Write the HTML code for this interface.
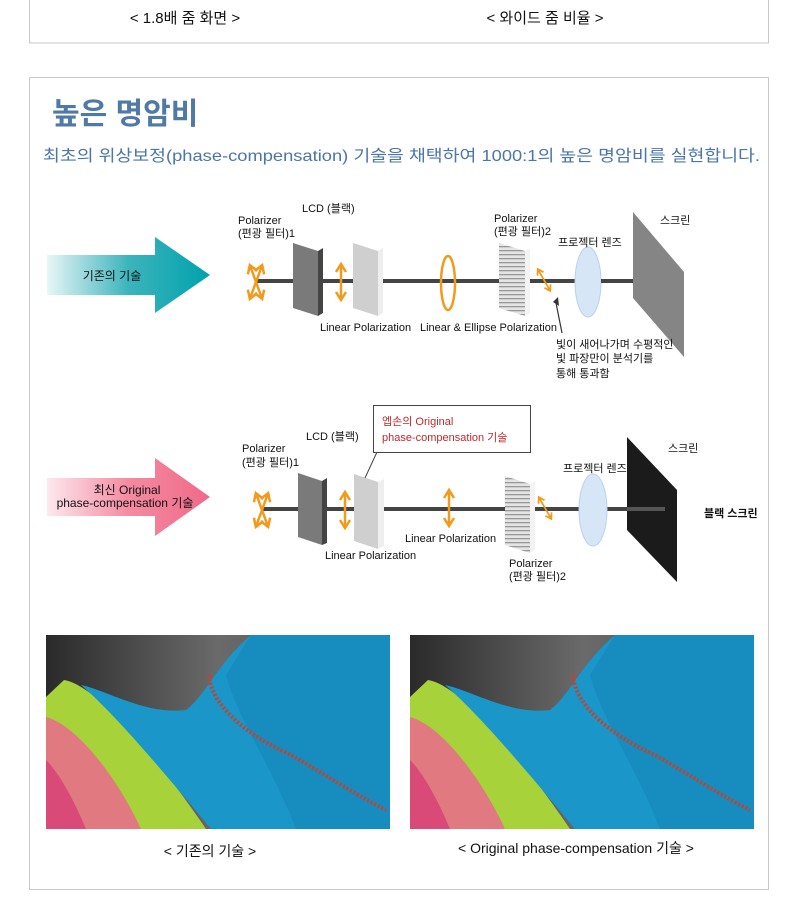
<!DOCTYPE html>
<html><head><meta charset="utf-8"><style>
body{margin:0;background:#fff;width:800px;height:907px;overflow:hidden;font-family:"Liberation Sans","Noto Sans CJK KR",sans-serif;}
svg{position:absolute;left:0;top:0}
</style></head><body>
<svg width="800" height="907" viewBox="0 0 800 907" font-family="Liberation Sans, Noto Sans CJK KR, sans-serif">
<defs>
<linearGradient id="teal" x1="0" x2="1"><stop offset="0" stop-color="#e8f6f7"/><stop offset="0.5" stop-color="#3cb4bc"/><stop offset="1" stop-color="#00a2ac"/></linearGradient>
<linearGradient id="pink" x1="0" x2="1"><stop offset="0" stop-color="#fde8ee"/><stop offset="0.5" stop-color="#f58aa2"/><stop offset="1" stop-color="#ee6a88"/></linearGradient>
<pattern id="str" width="4" height="4" patternUnits="userSpaceOnUse"><rect width="4" height="4" fill="#e4e4e4"/><rect y="2" width="4" height="1.3" fill="#999"/></pattern>
<linearGradient id="bg" x1="0" y1="0" x2="1" y2="0"><stop offset="0" stop-color="#2a2a2a"/><stop offset="0.5" stop-color="#6a6a6a"/><stop offset="1" stop-color="#505050"/></linearGradient>
<g id="photo">
<rect width="344" height="194" fill="url(#bg)"/>
<path d="M0,80 C30,85 70,140 100,194 H0 Z" fill="#e07a80"/>
<path d="M0,125 C15,140 30,170 40,194 H0 Z" fill="#d94a78"/>
<path d="M18,45 C50,50 110,120 160,194 H95 C70,140 30,90 0,82 V62 Z" fill="#a8d23a"/>
<path d="M205,0 H344 V194 H165 C120,140 70,80 35,50 C60,55 100,80 140,75 C160,60 170,30 205,0 Z" fill="#1a96c8"/>
<path d="M205,0 H344 V194 H250 C230,140 190,80 180,40 Z" fill="#1585b8" opacity="0.6"/>
<path d="M163,40 C165,70 200,100 245,120 C280,140 310,160 340,175" stroke="#c8402a" stroke-width="4" fill="none" stroke-dasharray="2 2"/>
</g>
<g id="ar"><path d="M-5,-10 L0,-18 L5,-10 M-5,10 L0,18 L5,10 M0,-18 V18" stroke="#f29a1c" stroke-width="2.5" fill="none"/></g>
</defs>

<rect x="29.5" y="-2" width="739" height="45" fill="#fff" stroke="#c8c8c8"/>
<text x="185" y="23" font-size="15" text-anchor="middle" fill="#111">&lt; 1.8배 줌 화면 &gt;</text>
<text x="545" y="23" font-size="15" text-anchor="middle" fill="#111">&lt; 와이드 줌 비율 &gt;</text>

<rect x="29.5" y="77.5" width="739" height="812" fill="#fff" stroke="#c8c8c8"/>
<text x="52" y="124" font-size="30" font-weight="bold" fill="#4f7aa8">높은 명암비</text>
<text x="43" y="161" font-size="16" fill="#4a76a8" textLength="717" lengthAdjust="spacingAndGlyphs">최초의 위상보정(phase-compensation) 기술을 채택하여 1000:1의 높은 명암비를 실현합니다.</text>

<polygon points="47,255 155,255 155,237 210,275 155,313 155,295 47,295" fill="url(#teal)"/>
<text x="112" y="280" font-size="12" text-anchor="middle" fill="#111">기존의 기술</text>
<line x1="257" y1="281" x2="657" y2="281" stroke="#444" stroke-width="4"/>
<polygon points="293,243 318,251 318,316 293,308" fill="#7a7a7a"/><polygon points="318,251 323,248 323,313 318,316" fill="#444"/>
<polygon points="353,243 378,251 378,316 353,308" fill="#cfcfcf"/><polygon points="378,251 383,248 383,313 378,316" fill="#eee"/>
<polygon points="499,243 525,251 525,316 499,308" fill="url(#str)"/><polygon points="525,251 530,248 530,313 525,316" fill="#f3f3f3"/>
<ellipse cx="588" cy="282" rx="13" ry="35" fill="#d7e6f7" stroke="#b9d0ec"/>
<line x1="601" y1="281" x2="657" y2="281" stroke="#444" stroke-width="4"/>
<polygon points="633,212 684,272 684,357 633,298" fill="#858585"/>
<ellipse cx="448" cy="283" rx="7" ry="27" fill="none" stroke="#f29a1c" stroke-width="2.5"/>
<g transform="translate(256,282) rotate(-20)"><use href="#ar"/></g>
<g transform="translate(256,282) rotate(20)"><use href="#ar"/></g>
<g transform="translate(341,282)"><use href="#ar"/></g>
<g transform="translate(544,280) rotate(-30) scale(0.7)"><use href="#ar"/></g>
<line x1="556" y1="303" x2="562" y2="333" stroke="#333" stroke-width="1.2"/><path d="M553,302 L558,297 L559,306Z" fill="#333"/>
<g font-size="11" fill="#111">
<text x="238" y="224">Polarizer</text><text x="238" y="237">(편광 필터)1</text>
<text x="302" y="212">LCD (블랙)</text>
<text x="494" y="222">Polarizer</text><text x="494" y="235">(편광 필터)2</text>
<text x="558" y="246">프로젝터 렌즈</text>
<text x="660" y="224">스크린</text>
<text x="320" y="331">Linear Polarization</text>
<text x="420" y="331">Linear &amp; Ellipse Polarization</text>
<text x="556" y="348">빛이 새어나가며 수평적인</text>
<text x="556" y="362">빛 파장만이 분석기를</text>
<text x="556" y="377">통해 통과함</text>
</g>

<polygon points="47,478 155,478 155,458 210,497 155,536 155,516 47,516" fill="url(#pink)"/>
<text x="127" y="494" font-size="12" text-anchor="middle" fill="#111">최신 Original</text>
<text x="125" y="507" font-size="12" text-anchor="middle" fill="#111">phase-compensation 기술</text>
<line x1="262" y1="509" x2="665" y2="509" stroke="#444" stroke-width="4"/>
<polygon points="298,473 322,481 322,545 298,537" fill="#7a7a7a"/><polygon points="322,481 327,478 327,543 322,545" fill="#444"/>
<polygon points="354,474 378,482 378,549 354,541" fill="#cfcfcf"/><polygon points="378,482 384,479 384,546 378,549" fill="#eee"/>
<polygon points="505,476 530,484 530,553 505,545" fill="url(#str)"/><polygon points="530,484 535,481 535,550 530,553" fill="#f3f3f3"/>
<ellipse cx="593" cy="510" rx="14" ry="36" fill="#d7e6f7" stroke="#b9d0ec"/>
<polygon points="627,437 677,490 677,582 627,530" fill="#1b1b1b"/>
<line x1="627" y1="509" x2="665" y2="509" stroke="#555" stroke-width="4"/>
<g transform="translate(262,510) rotate(-20)"><use href="#ar"/></g>
<g transform="translate(262,510) rotate(20)"><use href="#ar"/></g>
<g transform="translate(345,510)"><use href="#ar"/></g>
<g transform="translate(449,508)"><use href="#ar"/></g>
<g transform="translate(545,508) rotate(-30) scale(0.7)"><use href="#ar"/></g>
<rect x="373.5" y="405.5" width="157" height="47" fill="#fff" stroke="#444"/>
<line x1="377" y1="452" x2="365" y2="478" stroke="#444"/>
<text x="382" y="425" font-size="11" fill="#c0282d">엡손의 Original</text>
<text x="382" y="441" font-size="11" fill="#c0282d">phase-compensation 기술</text>
<g font-size="11" fill="#111">
<text x="242" y="452">Polarizer</text><text x="242" y="466">(편광 필터)1</text>
<text x="306" y="440">LCD (블랙)</text>
<text x="325" y="559">Linear Polarization</text>
<text x="405" y="542">Linear Polarization</text>
<text x="509" y="567">Polarizer</text><text x="509" y="580">(편광 필터)2</text>
<text x="563" y="472">프로젝터 렌즈</text>
<text x="668" y="452">스크린</text>
<text x="704" y="517" font-weight="bold">블랙 스크린</text>
</g>

<g transform="translate(46,635)"><use href="#photo"/></g>
<g transform="translate(410,635)"><use href="#photo"/></g>
<text x="210" y="856" font-size="14" text-anchor="middle" fill="#111">&lt; 기존의 기술 &gt;</text>
<text x="576" y="853" font-size="14" text-anchor="middle" fill="#111">&lt; Original phase-compensation 기술 &gt;</text>
</svg>
</body></html>
